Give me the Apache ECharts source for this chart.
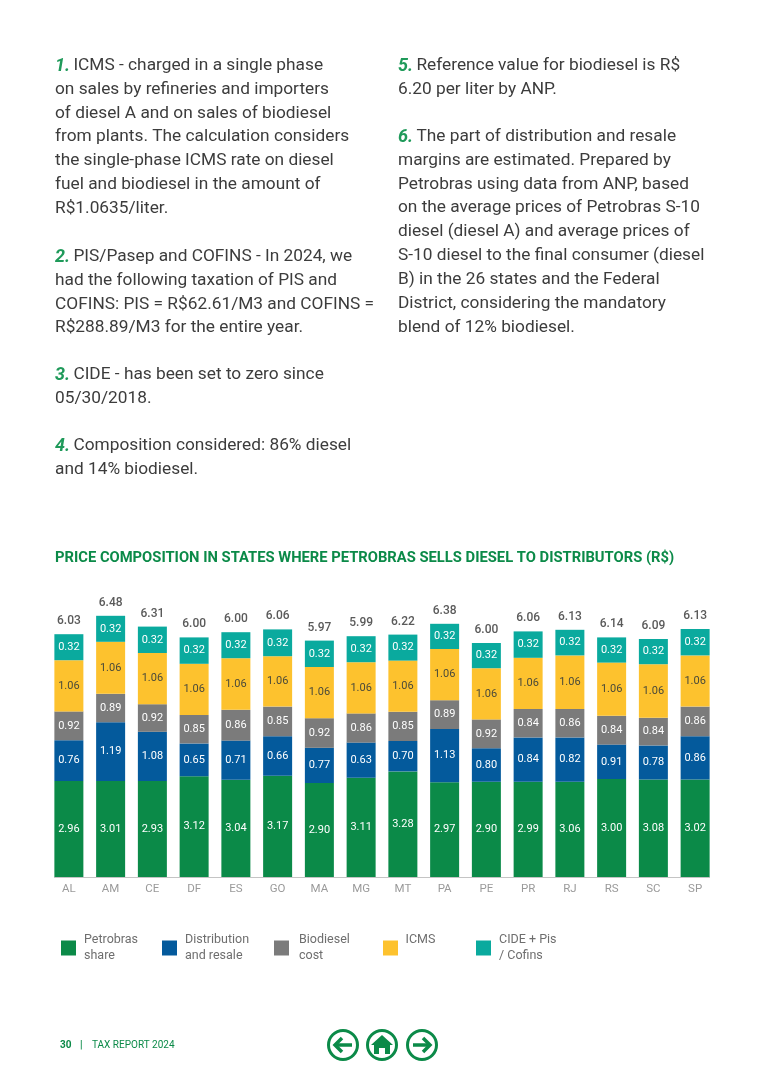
<!DOCTYPE html>
<html><head><meta charset="utf-8">
<style>html,body{margin:0;padding:0;background:#fff}#c{width:766px;height:1083px}</style>
<script src="https://cdn.jsdelivr.net/npm/echarts@6/dist/echarts.min.js"></script>
</head><body><div id="c"></div>
<script>
const states=['AL','AM','CE','DF','ES','GO','MA','MG','MT','PA','PE','PR','RJ','RS','SC','SP'];
// Printed values, as labelled in the reference
const totals=['6.03','6.48','6.31','6.00','6.00','6.06','5.97','5.99','6.22','6.38','6.00','6.06','6.13','6.14','6.09','6.13'];
const petrobrasLabels=['2.96','3.01','2.93','3.12','3.04','3.17','2.90','3.11','3.28','2.97','2.90','2.99','3.06','3.00','3.08','3.02'];
const distributionLabels=['0.76','1.19','1.08','0.65','0.71','0.66','0.77','0.63','0.70','1.13','0.80','0.84','0.82','0.91','0.78','0.86'];
const biodieselLabels=['0.92','0.89','0.92','0.85','0.86','0.85','0.92','0.86','0.85','0.89','0.92','0.84','0.86','0.84','0.84','0.86'];
const icmsLabels=states.map(()=>'1.06');
const cideLabels=states.map(()=>'0.32');
// The reference's segments are not drawn to scale with their labels, so these are the heights as drawn
const petrobrasDrawn=[2.40,2.40,2.40,2.52,2.43,2.53,2.35,2.48,2.64,2.37,2.38,2.38,2.38,2.45,2.44,2.44];
const distributionDrawn=[1.02,1.47,1.23,0.82,0.98,0.99,0.88,0.88,0.76,1.33,0.84,1.11,1.11,0.86,0.85,1.08];
const biodieselDrawn=[0.72,0.71,0.69,0.71,0.77,0.74,0.74,0.73,0.73,0.72,0.72,0.71,0.71,0.72,0.69,0.74];
const icmsDrawn=[1.28,1.30,1.28,1.28,1.29,1.26,1.28,1.28,1.28,1.28,1.28,1.28,1.34,1.33,1.34,1.28];
const cideDrawn=[0.65,0.65,0.66,0.66,0.65,0.67,0.66,0.65,0.65,0.63,0.63,0.66,0.64,0.63,0.63,0.66];
const zeros=states.map(()=>0);

const FONT='Roboto';
const leftNotes=[
 [64,'1.','ICMS - charged in a single phase'],[88,'','on sales by refineries and importers'],[112,'','of diesel A and on sales of biodiesel'],
 [135,'','from plants. The calculation considers'],[159,'','the single-phase ICMS rate on diesel'],[183,'','fuel and biodiesel in the amount of'],[207,'','R$1.0635/liter.'],
 [255,'2.','PIS/Pasep and COFINS - In 2024, we'],[279,'','had the following taxation of PIS and'],[303,'','COFINS: PIS = R$62.61/M3 and COFINS ='],[326,'','R$288.89/M3 for the entire year.'],
 [373,'3.','CIDE - has been set to zero since'],[397,'','05/30/2018.'],
 [444,'4.','Composition considered: 86% diesel'],[468,'','and 14% biodiesel.']];
const rightNotes=[
 [64,'5.','Reference value for biodiesel is R$'],[88,'','6.20 per liter by ANP.'],
 [135,'6.','The part of distribution and resale'],[159,'','margins are estimated. Prepared by'],[183,'','Petrobras using data from ANP, based'],[206,'','on the average prices of Petrobras S-10'],
 [230,'','diesel (diesel A) and average prices of'],[254,'','S-10 diesel to the final consumer (diesel'],[278,'','B) in the 26 states and the Federal'],[302,'','District, considering the mandatory'],[326,'','blend of 12% biodiesel.']];

const GREEN='#0b8a48';
function noteText(x,[y,n,t]){
  return {type:'text',x,y:y+2,style:{
    text:(n?`{n|${n}} `:'')+`{t|${t}}`,
    verticalAlign:'middle',
    rich:{n:{fontFamily:FONT,fontSize:18,fontWeight:'bold',fontStyle:'italic',fill:'#1f9a5a',color:'#1f9a5a'},
          t:{fontFamily:FONT,fontSize:17.3,fill:'#3c3c3c',color:'#3c3c3c'}}}};
}
function seg(name,drawn,labels,color,labelColor){
  return {name,type:'bar',stack:'p',barWidth:29,data:drawn,itemStyle:{color},
    label:{show:true,position:'inside',color:labelColor,fontFamily:FONT,fontSize:11,
      formatter:p=>labels[p.dataIndex]}};
}
function legendItem(name,left,gap,text){
  return {data:[name],left,top:932,orient:'horizontal',itemWidth:15,itemHeight:15,itemGap:gap,padding:0,
    icon:'rect',selectedMode:false,formatter:()=>text,
    textStyle:{fontFamily:FONT,fontSize:12.5,lineHeight:16,color:'#6e6e6e',padding:[0,0,0,gap-5]}};
}
function navIcon(cx,cy,inner){
  return [{type:'circle',shape:{cx,cy,r:14.5},style:{fill:'#fff',stroke:GREEN,lineWidth:3}},...inner];
}
const chart=echarts.init(document.getElementById('c'),null,{renderer:'canvas'});
chart.setOption({
  animation:false,backgroundColor:'#fff',
  grid:{left:48,right:50,top:597,bottom:206},
  xAxis:{type:'category',data:states,axisTick:{show:false},axisLine:{show:false},
    axisLabel:{color:'#9a9a9a',fontFamily:FONT,fontSize:11.5,margin:6}},
  yAxis:{type:'value',min:0,max:7,show:false},
  legend:[legendItem('Petrobras share',61,8,'Petrobras\nshare'),legendItem('Distribution and resale',162,8,'Distribution\nand resale'),
    legendItem('Biodiesel cost',274,10,'Biodiesel\ncost'),legendItem('ICMS',383,7.5,'ICMS\n '),legendItem('CIDE + Pis / Cofins',476,8,'CIDE + Pis\n/ Cofins')],
  series:[
    seg('Petrobras share',petrobrasDrawn,petrobrasLabels,GREEN,'#fff'),
    seg('Distribution and resale',distributionDrawn,distributionLabels,'#045a9c','#fff'),
    seg('Biodiesel cost',biodieselDrawn,biodieselLabels,'#7b7b7b','#fff'),
    seg('ICMS',icmsDrawn,icmsLabels,'#fdc22e','#4a4a3a'),
    seg('CIDE + Pis / Cofins',cideDrawn,cideLabels,'#0aaa9e','#fff'),
    {name:'Total',type:'bar',stack:'p',barWidth:29,data:zeros,itemStyle:{color:'transparent'},
      label:{show:true,position:'top',distance:7,color:'#5a5a5a',fontFamily:FONT,fontWeight:500,fontSize:12,formatter:p=>totals[p.dataIndex]}}
  ],
  graphic:[
    ...leftNotes.map(l=>noteText(55,l)),
    ...rightNotes.map(l=>noteText(398,l)),
    {type:'line',shape:{x1:54,y1:877.5,x2:710,y2:877.5},style:{stroke:'#c4c4c4',lineWidth:1}},
    {type:'text',x:55,y:558,style:{text:'PRICE COMPOSITION IN STATES WHERE PETROBRAS SELLS DIESEL TO DISTRIBUTORS (R$)',
      fontFamily:FONT,fontSize:14.75,fontWeight:'bold',fill:GREEN,verticalAlign:'middle'}},
    {type:'text',x:60,y:1045,style:{text:'30',fontFamily:FONT,fontSize:10,fontWeight:'bold',fill:GREEN,verticalAlign:'middle'}},
    {type:'text',x:80,y:1045,style:{text:'|',fontFamily:FONT,fontSize:10,fontWeight:'bold',fill:GREEN,verticalAlign:'middle'}},
    {type:'text',x:92,y:1045,style:{text:'TAX REPORT 2024',fontFamily:FONT,fontSize:10,fill:GREEN,verticalAlign:'middle'}},
    ...navIcon(343,1045,[{type:'polyline',shape:{points:[[335,1045],[352,1045]]},style:{stroke:GREEN,lineWidth:3.5,fill:'none'}},
       {type:'polyline',shape:{points:[[342,1038],[335,1045],[342,1052]]},style:{stroke:GREEN,lineWidth:3.5,fill:'none'}}]),
    ...navIcon(382,1045,[{type:'polygon',shape:{points:[[382,1035],[393,1045],[390,1045],[390,1054],[385,1054],[385,1048],[379,1048],[379,1054],[374,1054],[374,1045],[371,1045]]},style:{fill:GREEN}}]),
    ...navIcon(422,1045,[{type:'polyline',shape:{points:[[413,1045],[430,1045]]},style:{stroke:GREEN,lineWidth:3.5,fill:'none'}},
       {type:'polyline',shape:{points:[[423,1038],[430,1045],[423,1052]]},style:{stroke:GREEN,lineWidth:3.5,fill:'none'}}])
  ]
});
</script></body></html>
